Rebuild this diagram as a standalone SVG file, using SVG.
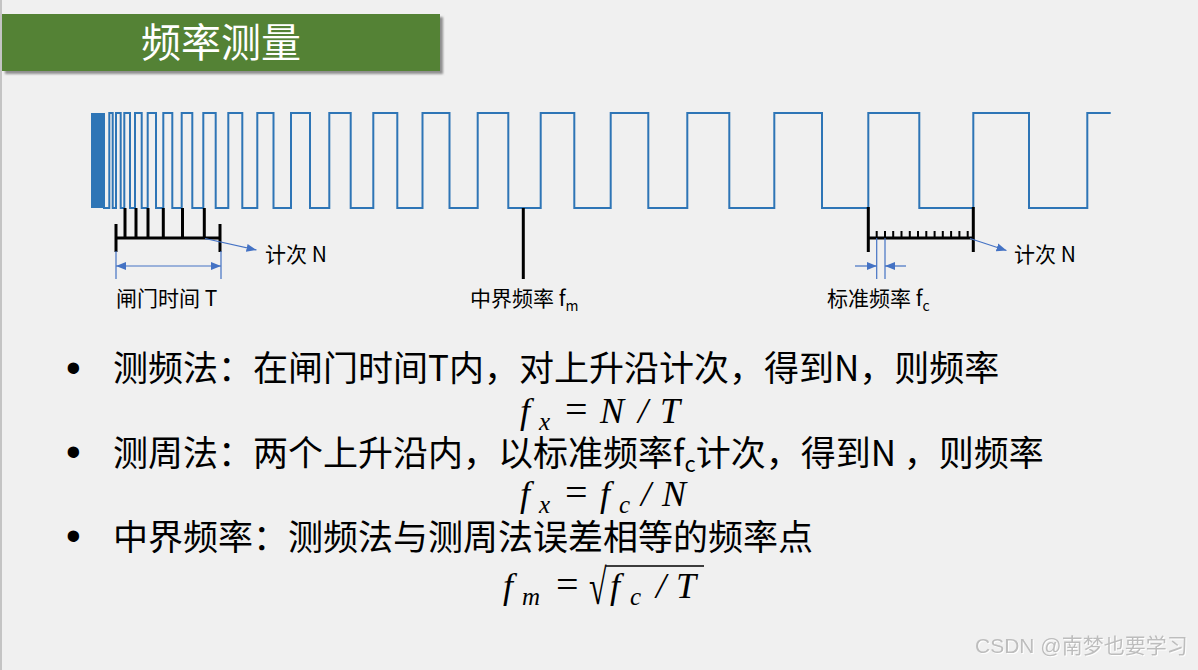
<svg xmlns="http://www.w3.org/2000/svg" width="1198" height="670" viewBox="0 0 1198 670">
<defs>
<style>
.cjk{font-family:"Noto Sans CJK SC","Noto Sans",sans-serif;fill:#000}
.lbl{font-size:21px}
.body{font-size:35px}
.bul{font-family:"Liberation Sans",Arial,sans-serif;font-size:42px;fill:#000}
.math{font-family:"Liberation Serif","DejaVu Serif",serif;font-style:italic;font-size:36px;fill:#000}
.sub{font-size:25px}
.op{font-style:normal;font-size:40px}
.wave{fill:none;stroke:#2E75B6;stroke-width:2}
.blk{stroke:#000;stroke-width:3;fill:none}
.blk2{stroke:#000;stroke-width:2;fill:none}
.dim{stroke:#4472C4;stroke-width:1.2;fill:none}
</style>
<marker id="ah" viewBox="0 0 10 10" refX="10" refY="5" markerWidth="10" markerHeight="10" markerUnits="userSpaceOnUse" orient="auto">
<path d="M0,1 L10,5 L0,9 Z" fill="#4472C4"/>
</marker>
<filter id="sh" x="-5%" y="-20%" width="110%" height="140%"><feGaussianBlur stdDeviation="1"/></filter>
<filter id="wm" x="-5%" y="-20%" width="110%" height="140%"><feDropShadow dx="1" dy="1" stdDeviation="0.3" flood-color="#ffffff"/></filter>
</defs>
<rect width="1198" height="670" fill="#F0F0F0"/>
<line x1="1" y1="0" x2="1" y2="670" stroke="#c4c4c4" stroke-width="2"/>

<g id="title">
<rect x="5" y="17" width="438" height="57" fill="#8f8f8f" filter="url(#sh)"/>
<rect x="2" y="14" width="438" height="57" fill="#548235"/>
<text x="221" y="56.5" text-anchor="middle" font-family="Noto Sans CJK SC,sans-serif" font-size="40" fill="#ffffff">频率测量</text>
</g>

<g id="waveform">
<rect x="91" y="113" width="13" height="95" fill="#2E75B6"/>
<path class="wave" d="M104,113 V208 H109.3 V113 H112.7 V208 H116 V113 H120.7 V208 H124.3 V113 H130 V208 H135 V113 H141.7 V208 H147.7 V113 H156 V208 H163.3 V113 H172.3 V208 H181.7 V113 H192.3 V208 H203.3 V113 H215.7 V208 H228.3 V113 H242.3 V208 H257.3 V113 H273.5 V208 H291 V113 H310 V208 H329.3 V113 H350.7 V208 H373.3 V113 H397.3 V208 H422.5 V113 H449.5 V208 H477.7 V113 H508.3 V208 H540.7 V113 H574.3 V208 H610.7 V113 H648.3 V208 H687.3 V113 H729.3 V208 H774.3 V113 H822 V208 H868.3 V113 H919.3 V208 H973.3 V113 H1029 V208 H1087.3 V113 H1110.7"/>
</g>

<g id="gate-counter">
<path class="blk" d="M125,208 V238 M136,208 V238 M148,208 V238 M163.3,208 V238 M182.5,208 V238 M204.3,208 V238 M116,238 H220 M116,224 V252 M220,224 V252"/>
<text class="cjk lbl" x="265" y="262">计次 N</text>
</g>

<g id="gate-time">
<path class="dim" d="M116,251 V279 M221,251 V279"/>
<text class="cjk lbl" x="116" y="306">闸门时间 T</text>
</g>

<g id="critical-freq">
<line class="blk" x1="523.3" y1="208" x2="523.3" y2="279"/>
<text class="cjk lbl" x="470" y="306">中界频率 f<tspan font-size="14" dy="5">m</tspan></text>
</g>

<g id="period-counter">
<path class="blk" d="M868.3,207 V252 M973.3,207 V252 M868.3,238 H973.3"/>
<path class="blk2" d="M876.7,231 V238 M885,231 V238 M893.2,231 V238 M901.5,231 V238 M909.8,231 V238 M918,231 V238 M926.3,231 V238 M934.6,231 V238 M942.8,231 V238 M951.1,231 V238 M959.4,231 V238 M967.7,231 V238"/>
<text class="cjk lbl" x="1014" y="262">计次 N</text>
</g>

<g id="std-freq">
<path class="dim" d="M876.7,238 V279 M885,238 V279"/>
<text class="cjk lbl" x="827" y="306">标准频率 f<tspan font-size="14" dy="5">c</tspan></text>
</g>

<g id="connectors">
<line class="dim" x1="205" y1="238.5" x2="256.5" y2="250" marker-end="url(#ah)"/>
<line class="dim" x1="970" y1="238.5" x2="1006.5" y2="250.5" marker-end="url(#ah)"/>
<line class="dim" x1="168" y1="266" x2="221" y2="266" marker-end="url(#ah)"/>
<line class="dim" x1="168" y1="266" x2="116" y2="266" marker-end="url(#ah)"/>
<line class="dim" x1="855" y1="266" x2="876.7" y2="266" marker-end="url(#ah)"/>
<line class="dim" x1="906" y1="266" x2="885" y2="266" marker-end="url(#ah)"/>
</g>

<g id="bullet1">
<text class="bul" x="66" y="382">•</text>
<text class="cjk body" x="113" y="381">测频法：在闸门时间T内，对上升沿计次，得到N，则频率</text>
<text class="math" y="423"><tspan x="520">f</tspan><tspan class="sub" x="539" dy="7">x</tspan><tspan class="op" x="565" dy="-7">=</tspan><tspan x="600">N</tspan><tspan x="638">/</tspan><tspan x="660">T</tspan></text>
</g>

<g id="bullet2">
<text class="bul" x="66" y="466">•</text>
<text class="cjk body" x="113" y="466">测周法：两个上升沿内，以标准频率f<tspan font-size="22" dy="6">c</tspan><tspan dy="-6">计次，得到N ，则频率</tspan></text>
<text class="math" y="506"><tspan x="520">f</tspan><tspan class="sub" x="539" dy="7">x</tspan><tspan class="op" x="565" dy="-7">=</tspan><tspan x="600">f</tspan><tspan class="sub" x="619" dy="7">c</tspan><tspan x="641" dy="-7">/</tspan><tspan x="662">N</tspan></text>
</g>

<g id="bullet3">
<text class="bul" x="66" y="550">•</text>
<text class="cjk body" x="113" y="550">中界频率：测频法与测周法误差相等的频率点</text>
<text class="math" y="598"><tspan x="503">f</tspan><tspan class="sub" x="522" dy="7">m</tspan><tspan class="op" x="556" dy="-7">=</tspan><tspan x="610">f</tspan><tspan class="sub" x="630" dy="7">c</tspan><tspan x="656" dy="-7">/</tspan><tspan x="676">T</tspan></text>
<text transform="translate(589,604) scale(0.8,1.25)" font-family="Liberation Serif,DejaVu Serif,serif" font-size="40" fill="#000">√</text>
<line x1="606" y1="566" x2="704" y2="566" stroke="#000" stroke-width="1.6"/>
</g>

<g id="watermark">
<text x="975" y="653" font-family="Liberation Sans,Noto Sans CJK SC,sans-serif" font-size="21" fill="#bdbdbd" filter="url(#wm)">CSDN @南梦也要学习</text>
</g>
</svg>
